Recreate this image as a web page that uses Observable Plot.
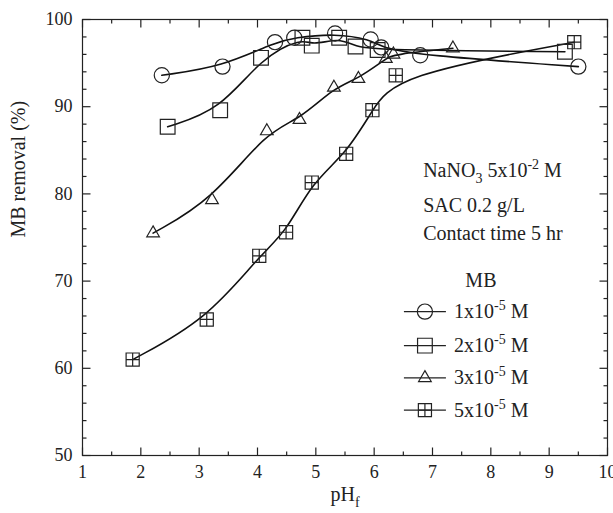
<!DOCTYPE html>
<html>
<head>
<meta charset="utf-8">
<script src="https://cdn.jsdelivr.net/npm/d3@7"></script>
<script src="https://cdn.jsdelivr.net/npm/@observablehq/plot@0.6"></script>
<style>
  html, body { margin: 0; padding: 0; background: #fff; }
  #chart svg { display: block; }
</style>
</head>
<body>
<div id="chart"></div>
<script>
// ---- Data ----
const seriesNames = ["1x10^{-5} M", "2x10^{-5} M", "3x10^{-5} M", "5x10^{-5} M"];

const ph1  = [2.36, 3.40, 4.30, 4.63, 5.33, 5.94, 6.12, 6.79, 9.50];
const rem1 = [93.6, 94.6, 97.4, 97.9, 98.4, 97.7, 96.8, 95.9, 94.6];

const ph2  = [2.46, 3.36, 4.06, 4.77, 4.93, 5.40, 5.68, 6.06, 9.27];
const rem2 = [87.7, 89.6, 95.6, 97.9, 97.0, 97.9, 96.9, 96.5, 96.3];

const ph3  = [2.21, 3.22, 4.16, 4.72, 5.31, 5.73, 6.20, 6.33, 7.35];
const rem3 = [75.5, 79.3, 87.2, 88.5, 92.2, 93.2, 95.5, 96.0, 96.7];

const ph4  = [1.86, 3.13, 4.03, 4.49, 4.93, 5.52, 5.97, 6.37, 9.43];
const rem4 = [61.0, 65.6, 72.9, 75.6, 81.3, 84.6, 89.6, 93.6, 97.4];

const xMajor = [1, 2, 3, 4, 5, 6, 7, 8, 9, 10];
const xMinor = [1.5, 2.5, 3.5, 4.5, 5.5, 6.5, 7.5, 8.5, 9.5];
const yMajor = [50, 60, 70, 80, 90, 100];
const yMinor = [52, 54, 56, 58, 62, 64, 66, 68, 72, 74, 76, 78, 82, 84, 86, 88, 92, 94, 96, 98];

const notes = ["NaNO_{3} 5x10^{-2} M", "SAC 0.2 g/L", "Contact time 5 hr"];
const legendTitle = "MB";

// ---- Build table ----
const phs = [ph1, ph2, ph3, ph4];
const rems = [rem1, rem2, rem3, rem4];
const table = [];
phs.forEach((arr, i) => arr.forEach((x, j) => table.push({series: seriesNames[i], s: i, x, y: rems[i][j]})));

// custom hatched square symbol
const hatched = {
  draw(ctx, size) {
    const h = Math.sqrt(size) / 2;
    ctx.moveTo(-h, -h); ctx.lineTo(h, -h); ctx.lineTo(h, h); ctx.lineTo(-h, h); ctx.closePath();
    ctx.moveTo(0, -h); ctx.lineTo(0, h);
    ctx.moveTo(-h, 0); ctx.lineTo(h, 0);
  }
};
const symbols = ["circle", "square", "triangle", hatched];
const radii = [7.6, 8.3, 4.7, 7.4];

// legend layout (data units of the plot)
const legRows = [66.5, 62.6, 58.9, 55.2];
const legend = seriesNames.map((name, i) => ({name, s: i, y: legRows[i]}));

const font = "Liberation Serif, Times New Roman, serif";
const ink = "#222";

// plot geometry
const W = 613, H = 513, mL = 82, mR = 6, mT = 19, mB = 58;
const xDom = [1, 10], yDom = [50, 100];
const fw = W - mL - mR, fh = H - mT - mB;
const majorLen = 8, minorLen = 4;
// tick lengths converted to data units
const xu = (xDom[1] - xDom[0]) / fw, yu = (yDom[1] - yDom[0]) / fh;

const dotMarks = symbols.map((sym, i) =>
  Plot.dot(table.filter(d => d.s === i), {x: "x", y: "y", symbol: () => sym, r: radii[i], stroke: ink, strokeWidth: 1.2, fill: "none"})
);
const legDots = symbols.map((sym, i) =>
  Plot.dot(legend.filter(d => d.s === i), {x: () => 6.87, y: "y", symbol: () => sym, r: radii[i], stroke: ink, strokeWidth: 1.2, fill: "none"})
);

const tickStyle = {stroke: ink, strokeWidth: 1.2};
function xTicks(vals, len, atY, dir) {
  return Plot.link(vals, {x1: d => d, x2: d => d, y1: () => atY, y2: () => atY + dir * len * yu, ...tickStyle});
}
function yTicks(vals, len, atX, dir) {
  return Plot.link(vals, {y1: d => d, y2: d => d, x1: () => atX, x2: () => atX + dir * len * xu, ...tickStyle});
}

const plot = Plot.plot({
  width: W,
  height: H,
  marginLeft: mL,
  marginRight: mR,
  marginTop: mT,
  marginBottom: mB,
  style: {fontFamily: font, fontSize: "18px", color: ink, background: "#fff"},
  x: {domain: xDom},
  y: {domain: yDom},
  marks: [
    // inward ticks on all four sides
    xTicks(xMajor, majorLen, yDom[0], 1),
    xTicks(xMinor, minorLen, yDom[0], 1),
    xTicks(xMajor, majorLen, yDom[1], -1),
    xTicks(xMinor, minorLen, yDom[1], -1),
    yTicks(yMajor, majorLen, xDom[0], 1),
    yTicks(yMinor, minorLen, xDom[0], 1),
    yTicks(yMajor, majorLen, xDom[1], -1),
    yTicks(yMinor, minorLen, xDom[1], -1),
    // tick labels
    Plot.axisX({anchor: "bottom", ticks: xMajor, tickSize: 0, tickPadding: 10, tickFormat: d => String(d), label: null, fontSize: 18, fill: ink}),
    Plot.axisY({anchor: "left", ticks: yMajor, tickSize: 0, tickPadding: 10, tickFormat: d => String(d), label: null, fontSize: 18, fill: ink}),
    Plot.frame({stroke: ink, strokeWidth: 1.2}),
    // axis titles
    Plot.text(["pH_{f}"], {frameAnchor: "bottom", dy: 45, text: d => d, fontSize: 20, fill: ink}),
    Plot.text(["MB removal (%)"], {frameAnchor: "left", dx: -64, rotate: -90, text: d => d, fontSize: 20, fill: ink}),
    // curves
    Plot.line(table, {x: "x", y: "y", z: "series", curve: "basis", stroke: "#111", strokeWidth: 1.6}),
    ...dotMarks,
    // annotations
    Plot.text(notes, {x: () => 6.84, y: (d, i) => [82.7, 78.7, 75.5][i], text: d => d, textAnchor: "start", fontSize: 20, fill: ink}),
    Plot.text([legendTitle], {x: () => 7.83, y: () => 70.1, text: d => d, fontSize: 20, fill: ink}),
    Plot.link(legend, {x1: () => 6.51, x2: () => 7.23, y1: "y", y2: "y", stroke: ink, strokeWidth: 1.2}),
    ...legDots,
    Plot.text(legend, {x: () => 7.37, y: "y", text: "name", textAnchor: "start", fontSize: 20, fill: ink})
  ]
});

// rich text: ^{...} superscript, _{...} subscript
function richify(el) {
  const s = el.textContent;
  if (!/[\^_]\{/.test(s)) return;
  const fs = parseFloat(getComputedStyle(el).fontSize) || 20;
  const small = Math.round(fs * 0.7);
  const parts = s.split(/([\^_]\{[^}]*\})/);
  while (el.firstChild) el.removeChild(el.firstChild);
  let shift = 0;
  const ns = "http://www.w3.org/2000/svg";
  for (const p of parts) {
    if (!p) continue;
    const t = document.createElementNS(ns, "tspan");
    let target = 0, txt = p, size = null;
    const m = p.match(/^([\^_])\{([^}]*)\}$/);
    if (m) { target = m[1] === "^" ? -fs * 0.4 : fs * 0.3; txt = m[2]; size = small; }
    const dy = target - shift;
    if (dy) t.setAttribute("dy", dy);
    shift = target;
    if (size) t.setAttribute("font-size", size);
    t.textContent = txt;
    el.appendChild(t);
  }
}
document.getElementById("chart").appendChild(plot);
plot.querySelectorAll("text").forEach(richify);
</script>
</body>
</html>
